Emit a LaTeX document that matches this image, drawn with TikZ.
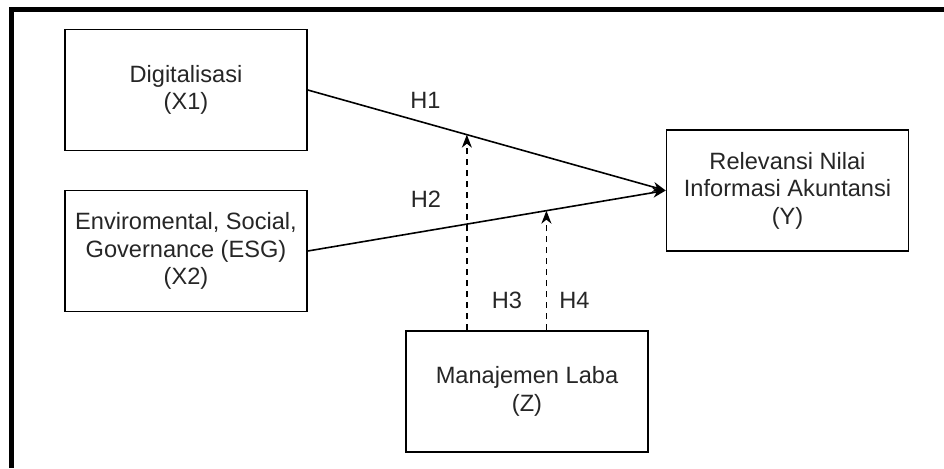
\documentclass[tikz,border=0pt]{standalone}
\usepackage{fontspec}
\setmainfont{Liberation Sans}
\usetikzlibrary{arrows.meta,calc}
\begin{document}
\begin{tikzpicture}[x=1pt,y=-1pt,
  varbox/.style={draw=black, line width=1.6pt, minimum width=242pt, minimum height=121pt,
    inner sep=0pt, align=center, font=\fontsize{23.6}{27.5}\selectfont, text=black!85},
  hlabel/.style={font=\fontsize{23.6}{27.5}\selectfont, text=black!85, inner sep=0pt},
  mainarrow/.style={line width=1.6pt, -{Stealth[length=13pt,width=10pt,inset=4pt]}},
  modarrow/.style={line width=1.6pt, dash pattern=on 6pt off 5pt, -{Stealth[length=13pt,width=10pt,inset=4pt]}}
]
\useasboundingbox (0,0) rectangle (944,468);
\fill[white] (0,0) rectangle (944,468);
\draw[line width=5pt] (11,468) -- (11,9.5) -- (944,9.5);

\node[varbox] (x1) at (186,90) {Digitalisasi\\(X1)};
\node[varbox] (x2) at (186,251) {Enviromental, Social,\\Governance (ESG)\\(X2)};
\node[varbox] (y) at (787.5,190.5) {Relevansi Nilai\\Informasi Akuntansi\\(Y)};
\node[varbox] (z) at (527,391.5) {Manajemen Laba\\(Z)};

\draw[mainarrow] ($(x1.east)$) -- (y.west);
\draw[mainarrow] ($(x2.east)$) -- (y.west);

\coordinate (m1) at ($(x1.east)!0.4444!(y.west)$);
\coordinate (m2) at ($(x2.east)!0.6667!(y.west)$);
\draw[modarrow] (m1 |- z.north) -- (m1);
\draw[modarrow] (m2 |- z.north) -- (m2);

\node[hlabel] (h1) at (425.5,100) {H1};
\node[hlabel] (h2) at (426,199) {H2};
\node[hlabel] (h3) at (507,300) {H3};
\node[hlabel] (h4) at (574.5,300) {H4};
\end{tikzpicture}
\end{document}
